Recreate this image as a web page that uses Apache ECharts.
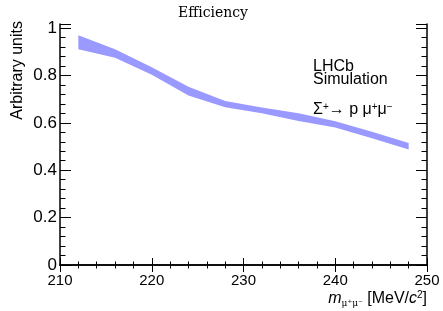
<!DOCTYPE html>
<html><head><meta charset="utf-8">
<script src="https://cdn.jsdelivr.net/npm/echarts@6/dist/echarts.min.js"></script>
<style>html,body{margin:0;padding:0;background:#fff}#c{width:443px;height:311px}</style>
</head><body><div id="c"></div>
<script>
const massValues = [212, 216, 220, 224, 228, 232, 236, 240, 244, 248];
const bandUpper = [0.970, 0.910, 0.835, 0.752, 0.692, 0.665, 0.640, 0.607, 0.562, 0.515];
const bandLower = [0.910, 0.875, 0.803, 0.715, 0.666, 0.640, 0.608, 0.580, 0.535, 0.487];
const yTickLabels = ['0', '0.2', '0.4', '0.6', '0.8', '1'];
const xTickLabels = ['210', '220', '230', '240', '250'];

const chart = echarts.init(document.getElementById('c'), null, {renderer: 'canvas'});
const F = 'Liberation Sans, Arial, sans-serif';
const bandData = massValues.map((x, i) => [x, bandLower[i], bandUpper[i]]);

function yFmt(v) {
  const i = Math.round(v / 0.2);
  return Math.abs(v - i * 0.2) < 1e-6 && i < yTickLabels.length ? yTickLabels[i] : '';
}
function xFmt(v) {
  const i = Math.round((v - 210) / 10);
  return Math.abs(v - 210 - i * 10) < 1e-6 ? (xTickLabels[i] || '') : '';
}
const axisLine = {show: true, lineStyle: {color: '#000', width: 1.5}};
function renderBand(params, api) {
  if (params.dataIndex !== 0) return null;
  const n = params.dataInsideLength || bandData.length;
  const up = [], lo = [];
  for (let i = 0; i < bandData.length; i++) {
    up.push(api.coord([bandData[i][0], bandData[i][2]]));
    lo.push(api.coord([bandData[i][0], bandData[i][1]]));
  }
  const pts = up.concat(lo.reverse());
  return {type: 'polygon', shape: {points: pts}, style: {fill: '#9999ff', stroke: 'none'}};
}
chart.setOption({
  animation: false,
  backgroundColor: '#fff',
  grid: {left: 60, right: 16, top: 24, bottom: 46},
  xAxis: [{
    type: 'value', min: 210, max: 250, interval: 10, position: 'bottom',
    axisLine: axisLine,
    axisTick: {show: true, inside: true, length: 7, lineStyle: {color: '#000', width: 1}},
    minorTick: {show: true, splitNumber: 5, length: 3.5, lineStyle: {color: '#000', width: 1}},
    axisLabel: {show: true, formatter: xFmt, color: '#000', fontFamily: F, fontSize: 15, margin: 8},
    splitLine: {show: false}
  }, {
    type: 'value', min: 210, max: 250, interval: 10, position: 'top',
    axisLine: axisLine,
    axisTick: {show: true, inside: true, length: 7, lineStyle: {color: '#000', width: 1}},
    minorTick: {show: true, splitNumber: 5, length: 3.5, lineStyle: {color: '#000', width: 1}},
    axisLabel: {show: false}, splitLine: {show: false}
  }],
  yAxis: [{
    type: 'value', min: 0, max: 1.017, interval: 0.2, position: 'left',
    axisLine: axisLine,
    axisTick: {show: true, inside: true, length: 11, lineStyle: {color: '#000', width: 1}},
    minorTick: {show: true, splitNumber: 5, length: 5.5, lineStyle: {color: '#000', width: 1}},
    axisLabel: {show: true, formatter: yFmt, color: '#000', fontFamily: F, fontSize: 17, margin: 3, showMaxLabel: false},
    splitLine: {show: false}
  }, {
    type: 'value', min: 0, max: 1.017, interval: 0.2, position: 'right',
    axisLine: axisLine,
    axisTick: {show: true, inside: true, length: 11, lineStyle: {color: '#000', width: 1}},
    minorTick: {show: true, splitNumber: 5, length: 5.5, lineStyle: {color: '#000', width: 1}},
    axisLabel: {show: false}, splitLine: {show: false}
  }],
  series: [{
    type: 'custom', name: 'band', xAxisIndex: 0, yAxisIndex: 0,
    data: bandData, encode: {x: 0, y: [1, 2]},
    renderItem: renderBand, silent: true, clip: true
  }],
  graphic: [
    {type: 'text', left: 178, top: 6, style: {text: 'Efficiency', font: '14px "DejaVu Serif", serif', fill: '#000'}},
    {type: 'text', x: 18, y: 21, rotation: Math.PI / 2,
      style: {text: 'Arbitrary units', font: '16px ' + F, fill: '#000', align: 'right', verticalAlign: 'middle'}},
    {type: 'text', x: 313, y: 60, style: {text: 'LHCb\nSimulation', font: '16px ' + F, lineHeight: 13, fill: '#000'}},
    {type: 'text', x: 313, y: 102, style: {
      text: '{a|Σ}{s|+}{a|→ p μ}{s|+}{a|μ}{s|−}',
      rich: {a: {fontFamily: F, fontSize: 16, lineHeight: 16, fill: '#000', verticalAlign: 'bottom'},
             s: {fontFamily: F, fontSize: 10, lineHeight: 10, fill: '#000', verticalAlign: 'top'}}}},
    {type: 'text', x: 427, y: 290, style: {
      align: 'right',
      text: '{m|m}{sub|μ⁺μ⁻}{a| [MeV/}{m|c}{sup|2}{a|]}',
      rich: {m: {fontFamily: F, fontSize: 16, fontStyle: 'italic', lineHeight: 18, verticalAlign: 'middle', fill: '#000'},
             a: {fontFamily: F, fontSize: 16, lineHeight: 18, verticalAlign: 'middle', fill: '#000'},
             sub: {fontFamily: 'DejaVu Serif, serif', fontSize: 9, lineHeight: 9, verticalAlign: 'bottom', fill: '#000'},
             sup: {fontFamily: F, fontSize: 10, lineHeight: 10, verticalAlign: 'top', fill: '#000'}}}}
  ]
});
</script></body></html>
